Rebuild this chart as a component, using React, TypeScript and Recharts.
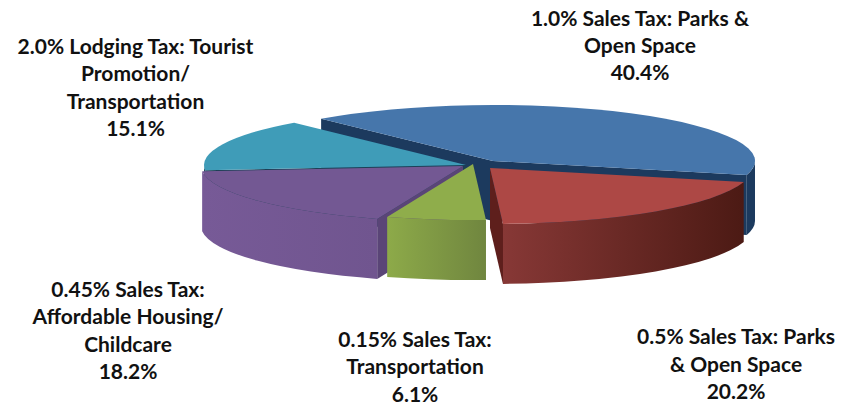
import React from "react";
import { PieChart, Pie } from "recharts";

const names = ["parks1", "parks05", "transport", "housing", "lodging"];
const shares = [40.4, 20.2, 6.1, 18.2, 15.1];
const labelLines = [
  ["1.0% Sales Tax: Parks &", "Open Space", "40.4%"],
  ["0.5% Sales Tax: Parks", "& Open Space", "20.2%"],
  ["0.15% Sales Tax:", "Transportation", "6.1%"],
  ["0.45% Sales Tax:", "Affordable Housing/", "Childcare", "18.2%"],
  ["2.0% Lodging Tax: Tourist", "Promotion/", "Transportation", "15.1%"],
];

// Styling tables (kept apart from the values)
const topColors = ["#4676AB", "#AD4845", "#8FAD4B", "#735893", "#3F9CB8"];
const wallStops = [
  ["#1C3A5E", "#1C3A5E"],
  ["#873836", "#4C1A14"],
  ["#8DAA49", "#70863F"],
  ["#775A97", "#70558F"],
  ["#1E4D60", "#1E4D60"],
];
const cutColors = ["#1C3A5E", "#5E1F1C", "#6D8240", "#5A4577", "#1C3F55"];
const explodeOffsets = [
  [15, -4],
  [12, 3],
  [-5, -1],
  [-15, 1],
  [-12, 0],
];
const labelBoxes = [
  { x: 640, y: 26, step: 27 },
  { x: 736, y: 344, step: 27.5 },
  { x: 415, y: 347, step: 27.3 },
  { x: 128, y: 297, step: 27.3 },
  { x: 135.5, y: 54, step: 27.3 },
];
const drawOrder = [0, 4, 3, 2, 1];

const tableData = names.map((name, i) => ({ name, value: shares[i] }));

const SQUASH = 0.2137;
const DEPTH = 60;
const RAD = Math.PI / 180;

function makeShape(layer: number) {
  return function SliceShape(props: any) {
    const name = props.payload?.name ?? props.name;
    const idx = names.indexOf(name);
    if (idx !== layer) return <g />;
    const { cx, cy, outerRadius: R, startAngle, endAngle } = props;
    const t1 = 90 - startAngle;
    const t2 = 90 - endAngle;
    const ry = R * SQUASH;
    const ax = cx + explodeOffsets[idx][0];
    const ay = cy + explodeOffsets[idx][1];
    const P = (t: number): [number, number] => [
      ax + R * Math.sin(t * RAD),
      ay - ry * Math.cos(t * RAD),
    ];
    const [sx, sy] = P(t1);
    const [ex, ey] = P(t2);
    const large = t2 - t1 > 180 ? 1 : 0;
    const top = `M${ax},${ay}L${sx},${sy}A${R},${ry} 0 ${large} 1 ${ex},${ey}Z`;

    const w1 = Math.max(t1, 90);
    const w2 = Math.min(t2, 270);
    const [wx1, wy1] = P(w1);
    const [wx2, wy2] = P(w2);
    const wall =
      w2 > w1
        ? `M${wx1},${wy1}A${R},${ry} 0 0 1 ${wx2},${wy2}L${wx2},${wy2 + DEPTH}A${R},${ry} 0 0 0 ${wx1},${wy1 + DEPTH}Z`
        : null;
    const cut = (x: number, y: number) =>
      `M${ax},${ay}L${x},${y}L${x},${y + DEPTH}L${ax},${ay + DEPTH}Z`;
    const gid = `wall-${idx}`;
    return (
      <g>
        <defs>
          <linearGradient id={gid} x1="0" x2="1" y1="0" y2="0">
            <stop offset="0%" stopColor={wallStops[idx][0]} />
            <stop offset="100%" stopColor={wallStops[idx][1]} />
          </linearGradient>
        </defs>
        {Math.sin(t1 * RAD) < 0 && <path d={cut(sx, sy)} fill={cutColors[idx]} />}
        {Math.sin(t2 * RAD) > 0 && <path d={cut(ex, ey)} fill={cutColors[idx]} />}
        {wall && <path d={wall} fill={`url(#${gid})`} />}
        <path d={top} fill={topColors[idx]} />
      </g>
    );
  };
}

export default function App() {
  return (
    <div style={{ position: "absolute", left: 0, top: 0, width: 858, height: 406, background: "#fff" }}>
      <PieChart width={858} height={406} margin={{ top: 0, right: 0, bottom: 0, left: 0 }}>
        {drawOrder.map((layer) => (
          <Pie
            key={layer}
            data={tableData}
            dataKey="value"
            nameKey="name"
            cx={478}
            cy={165}
            innerRadius={0}
            outerRadius={262}
            startAngle={131}
            endAngle={-229}
            paddingAngle={0}
            stroke="none"
            label={false}
            labelLine={false}
            isAnimationActive={false}
            shape={makeShape(layer)}
          />
        ))}
        {labelLines.map((lines, i) => (
          <text
            key={i}
            textAnchor="middle"
            fontFamily="Lato, 'Open Sans', sans-serif"
            fontWeight={700}
            fontSize={21}
            fill="#111"
          >
            {lines.map((line, j) => (
              <tspan key={j} x={labelBoxes[i].x} y={labelBoxes[i].y + j * labelBoxes[i].step}>
                {line}
              </tspan>
            ))}
          </text>
        ))}
      </PieChart>
    </div>
  );
}
